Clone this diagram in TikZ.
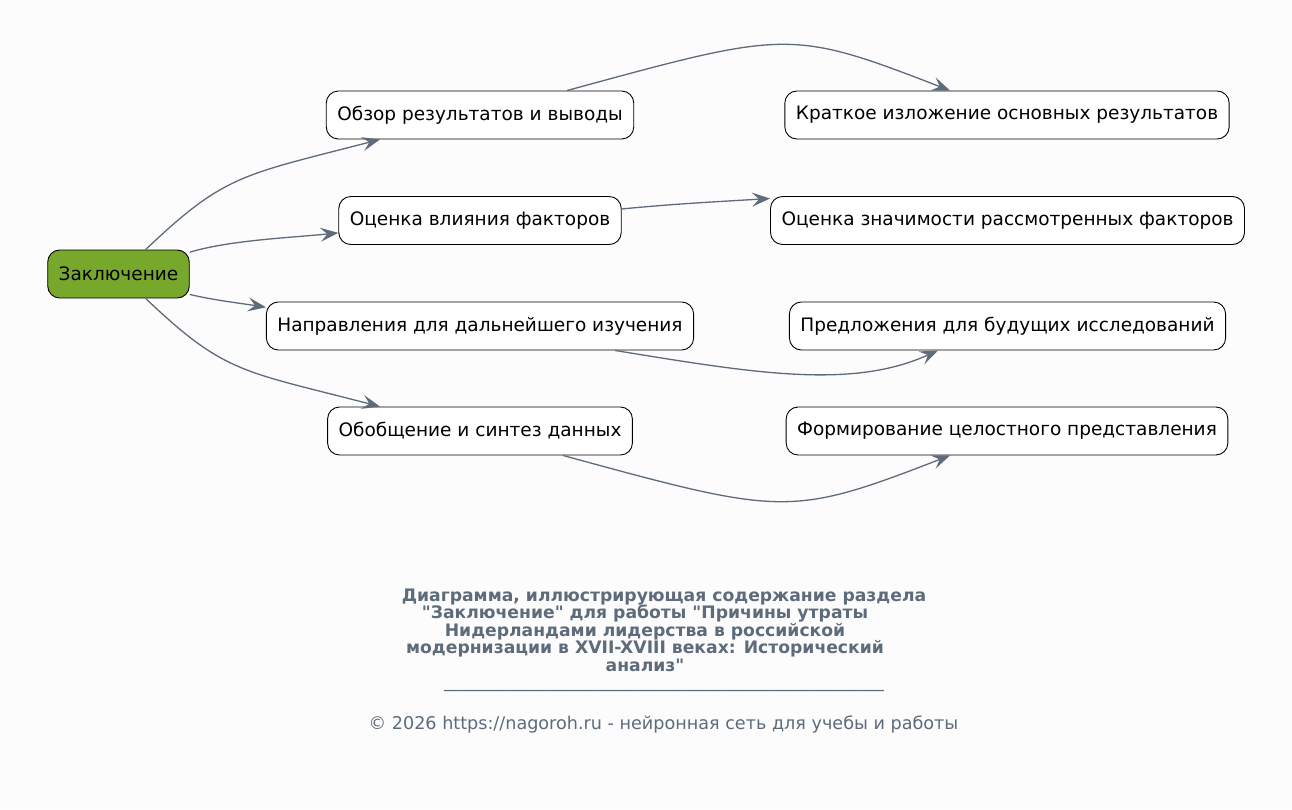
\documentclass[tikz,border=0pt]{standalone}
\usepackage{fontspec}
\setmainfont{DejaVu Sans}[Ligatures=TeXOff]
\usetikzlibrary{arrows.meta}
\definecolor{edgegray}{HTML}{5F6B7A}
\definecolor{rootgreen}{HTML}{78A82B}
\definecolor{captiongray}{HTML}{5D6B7B}
\definecolor{pagebg}{HTML}{FCFCFC}

\begin{document}
\begin{tikzpicture}[x=1pt, y=-1pt,
    box/.style={draw=black, fill=white, rounded corners=12pt, minimum height=48pt,
        inner xsep=11pt, line width=0.9pt, font=\fontsize{18.5}{20}\selectfont},
    rootbox/.style={box, fill=rootgreen},
    link/.style={draw=edgegray, line width=1.3pt, -{Stealth[length=18pt,width=14pt,inset=7pt]}}]
    \fill[pagebg] (0,0) rectangle (1292,809);
    \useasboundingbox (0,0) rectangle (1292,809);

    % root and first level
    \node[rootbox] (root) at (118.5,274) {Заключение};
    \node[box] (obzor) at (480,115) {Обзор результатов и выводы};
    \node[box] (vliyanie) at (480,220.5) {Оценка влияния факторов};
    \node[box] (naprav) at (480,326) {Направления для дальнейшего изучения};
    \node[box] (sintez) at (480,431) {Обобщение и синтез данных};

    % second level
    \node[box] (kratko) at (1007,115) {Краткое изложение основных результатов};
    \node[box] (znachim) at (1007.5,220.5) {Оценка значимости рассмотренных факторов};
    \node[box] (predl) at (1007.5,326) {Предложения для будущих исследований};
    \node[box] (celost) at (1007,431) {Формирование целостного представления};

    \draw[link] (root.42) .. controls +(79,-75) and +(-139,36) .. ([xshift=-100pt]obzor.south);
    \draw[link] (root.17) .. controls +(40,-12) and +(-50,5) .. (vliyanie.185);
    \draw[link] (root.-16) .. controls +(25,6) and +(-25,-4) .. (naprav.175);
    \draw[link] (root.-42) .. controls +(79,75) and +(-139,-36) .. ([xshift=-100pt]sintez.north);

    \draw[link] ([xshift=87pt]obzor.north) .. controls +(220,-60) and +(-160,-62) .. ([xshift=-57pt]kratko.north);
    \draw[link] ([yshift=11.5pt]vliyanie.east) .. controls +(50,-5) and +(-50,3) .. ([yshift=22pt]znachim.west);
    \draw[link] ([xshift=135pt]naprav.south) .. controls +(141,23) and +(-86,39) .. ([xshift=-69.5pt]predl.south);
    \draw[link] ([xshift=83pt]sintez.south) .. controls +(220,60) and +(-160,62) .. ([xshift=-57pt]celost.south);

    % caption
    \node[text=captiongray, align=center, font=\bfseries\fontsize{17.2}{17.5}\selectfont] (caption) at (645,630)
        {\hspace*{38pt}Диаграмма, иллюстрирующая содержание раздела\\
         "Заключение" для работы "Причины утраты\\
         Нидерландами лидерства в российской\\
         модернизации в XVII-XVIII веках: Исторический\\
         анализ"};
    \node[text=captiongray, font=\fontsize{17.6}{18}\selectfont, inner ysep=1pt] (rule) at (664,690)
        {\_\_\_\_\_\_\_\_\_\_\_\_\_\_\_\_\_\_\_\_\_\_\_\_\_\_\_\_\_\_\_\_\_\_\_\_\_\_\_\_\_\_\_\_\_\_\_\_\_\_};
    \node[text=captiongray, font=\fontsize{17.6}{18}\selectfont] (footer) at (663.5,724)
        {© 2026 https://nagoroh.ru - нейронная сеть для учебы и работы};
\end{tikzpicture}
\end{document}
